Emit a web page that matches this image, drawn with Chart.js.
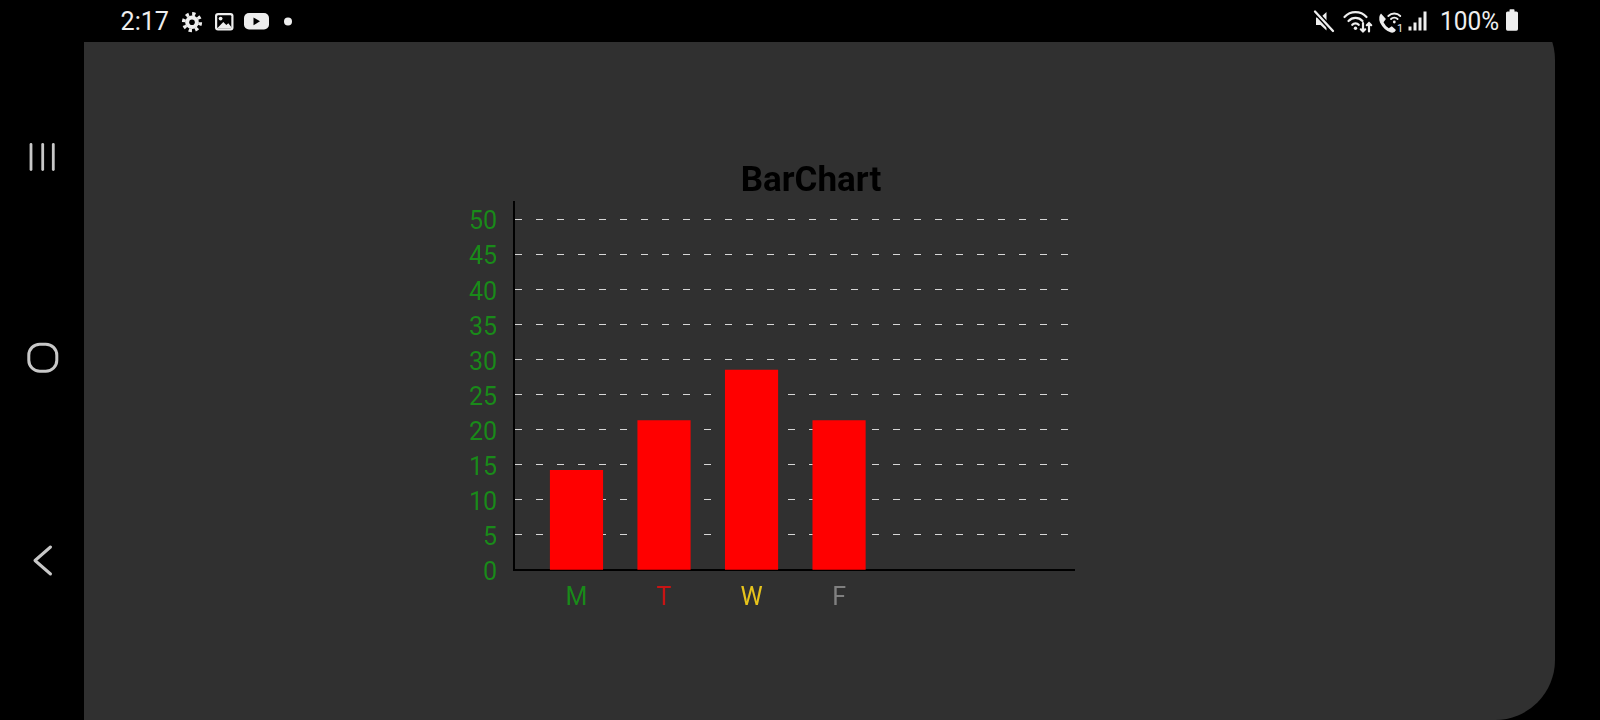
<!DOCTYPE html>
<html>
<head>
<meta charset="utf-8">
<title>BarChart</title>
<script src="https://cdn.jsdelivr.net/npm/chart.js@4.4.1/dist/chart.umd.min.js"></script>
<style>
  html, body { margin: 0; padding: 0; background: #000; }
  body { width: 1600px; height: 720px; overflow: hidden; position: relative; font-family: Roboto, sans-serif; }
  #panel { position: absolute; left: 84px; top: 0; width: 1471px; height: 720px; background: #303030; border-radius: 0 60px 60px 0; }
  #chart-box { position: absolute; left: 414px; top: 140px; width: 794px; height: 490px; }
  svg { position: absolute; left: 0; top: 0; }
</style>
</head>
<body>
<div id="panel"></div>

<!-- status bar -->
<svg width="1600" height="42" viewBox="0 0 1600 42">
  <rect x="0" y="0" width="1600" height="42" fill="#000"/>
  <text x="120.5" y="30" font-family="Roboto" font-size="26" fill="#eee" textLength="48.5" lengthAdjust="spacingAndGlyphs">2:17</text>
  <!-- gear -->
  <circle cx="192" cy="22.2" r="8.3" fill="none" stroke="#eee" stroke-width="3.6" stroke-dasharray="3.25 3.25"/>
  <circle cx="192" cy="22.2" r="6.8" fill="#eee"/>
  <circle cx="192" cy="22.2" r="2.8" fill="#000"/>
  <!-- image -->
  <rect x="215" y="13" width="18.5" height="17.5" rx="3" fill="#eee"/>
  <rect x="217.2" y="15.2" width="14.1" height="13.1" rx="1" fill="#000"/>
  <circle cx="220.6" cy="18.6" r="1.9" fill="#eee"/>
  <polygon points="217.2,28.3 223.3,22 226.3,25 228.3,23.2 231.3,27 231.3,28.3" fill="#eee"/>
  <!-- youtube -->
  <rect x="244" y="13" width="25" height="16.5" rx="5" fill="#eee"/>
  <polygon points="253.5,17.4 253.5,25.2 260,21.3" fill="#000"/>
  <circle cx="288" cy="21.5" r="4" fill="#eee"/>

  <!-- mute -->
  <polygon points="1316,17.5 1320.5,17.5 1326.5,12 1326.5,30.5 1320.5,25 1316,25" fill="#eee"/>
  <line x1="1315" y1="11.5" x2="1333" y2="31" stroke="#000" stroke-width="5"/>
  <line x1="1315" y1="11.5" x2="1333" y2="31" stroke="#eee" stroke-width="2.3" stroke-linecap="round"/>
  <!-- wifi with arrows -->
  <g fill="none" stroke="#eee" stroke-width="2.2" stroke-linecap="round">
    <path d="M1344.5,17 A15,15 0 0 1 1366.5,17"/>
    <path d="M1348.5,21 A9.5,9.5 0 0 1 1362.5,21"/>
    <path d="M1352.3,24.8 A4.2,4.2 0 0 1 1358.7,24.8"/>
    <path d="M1363,23 L1363,31.5 M1360.8,29.3 L1363,31.5 L1365.2,29.3"/>
    <path d="M1369,31.5 L1369,23 M1366.8,25.2 L1369,23 L1371.2,25.2"/>
  </g>
  <circle cx="1355.5" cy="28.3" r="1.7" fill="#eee"/>
  <!-- wifi call -->
  <path d="M1381,13.5 q-3,3 -1,9 q4,8 11,10 q3.5,0.8 5,-2.5 l-4.2,-3.8 l-3,2 q-3.3,-2 -5.3,-6 l2.4,-3.2 z" fill="#eee"/>
  <g fill="none" stroke="#eee" stroke-width="1.8" stroke-linecap="round">
    <path d="M1388.3,16 A8.5,8.5 0 0 1 1400.3,16"/>
    <path d="M1391,19 A4.6,4.6 0 0 1 1397.6,19"/>
  </g>
  <circle cx="1394.3" cy="22" r="1.4" fill="#eee"/>
  <text x="1397" y="32" font-family="Roboto" font-size="11" fill="#eee">1</text>
  <!-- signal -->
  <rect x="1408.5" y="26.5" width="3" height="4" fill="#eee"/>
  <rect x="1413.5" y="22.5" width="3" height="8" fill="#eee"/>
  <rect x="1418.5" y="17.5" width="3" height="13" fill="#eee"/>
  <rect x="1423.5" y="11.5" width="3" height="19" fill="#eee"/>
  <text x="1440" y="30" font-family="Roboto" font-size="26" fill="#eee" textLength="59" lengthAdjust="spacingAndGlyphs">100%</text>
  <!-- battery -->
  <rect x="1509.5" y="9.3" width="5" height="3" rx="0.8" fill="#eee"/>
  <rect x="1506" y="11.5" width="12" height="19.2" rx="1.6" fill="#eee"/>
</svg>

<!-- navigation keys -->
<svg width="84" height="720" viewBox="0 0 84 720">
  <rect x="29.6" y="143" width="2.8" height="28" rx="1.4" fill="#c8c8c8"/>
  <rect x="41.3" y="143" width="2.8" height="28" rx="1.4" fill="#c8c8c8"/>
  <rect x="51.9" y="143" width="2.8" height="28" rx="1.4" fill="#c8c8c8"/>
  <rect x="28.8" y="344.2" width="28" height="27" rx="11" fill="none" stroke="#c8c8c8" stroke-width="3"/>
  <polyline points="50.5,547 35,560.5 50.5,574" fill="none" stroke="#c8c8c8" stroke-width="3" stroke-linecap="round" stroke-linejoin="round"/>
</svg>

<div id="chart-box"><canvas id="barChart"></canvas></div>

<script>
// chart values
const days = ["M", "T", "W", "F"];
const dayColors = ["#1a8a1a", "#c81414", "#e6c31c", "#808080"];
const values = [14.2, 21.3, 28.5, 21.3];
const yTicks = [0, 5, 10, 15, 20, 25, 30, 35, 40, 45, 50];

const GREEN = "#1a8a1a";

function initChart() {
  Chart.defaults.font.family = "Roboto";
  const ctx = document.getElementById("barChart").getContext("2d");

  new Chart(ctx, {
    type: "bar",
    data: {
      datasets: [{
        data: days.map((d, i) => ({ x: i, y: values[i] })),
        backgroundColor: "#ff0000",
        borderWidth: 0,
        barThickness: 52.5,
        xAxisID: "x",
        yAxisID: "y"
      }]
    },
    options: {
      animation: false,
      responsive: true,
      maintainAspectRatio: false,
      layout: { padding: 0 },
      plugins: {
        legend: { display: false },
        tooltip: { enabled: false },
        title: {
          display: true,
          text: "BarChart",
          color: "#000",
          font: { size: 35, weight: "bold", lineHeight: 1.1 },
          padding: { top: 22.75, bottom: 1.05 }
        }
      },
      scales: {
        x: {
          type: "linear",
          offset: false,
          bounds: "data",
          min: -0.714,
          max: 5.69,
          grid: { display: false, drawTicks: false, offset: false },
          border: { display: true, color: "#000", width: 2 },
          ticks: {
            color: (c) => dayColors[c.index] || GREEN,
            font: { size: 25 },
            padding: 14,
            maxRotation: 0,
            autoSkip: false,
            callback: (v) => days[v] ?? ""
          },
          afterBuildTicks: (s) => { s.ticks = days.map((d, i) => ({ value: i })); },
          afterFit: (s) => { s.height = 60; }
        },
        y: {
          type: "linear",
          position: "left",
          min: 0,
          max: 52.4,
          grid: {
            color: (c) => (c.tick && c.tick.value === 0 ? "rgba(0,0,0,0)" : "#d6d6d6"),
            lineWidth: 1,
            drawTicks: false
          },
          border: { display: true, color: "#000", width: 2, dash: [7, 14] },
          ticks: { color: GREEN, font: { size: 25 }, padding: 17, labelOffset: 4 },
          afterBuildTicks: (s) => { s.ticks = yTicks.map((v) => ({ value: v })); },
          afterFit: (s) => { s.width = 100; }
        },
        // empty right axis, only keeps the plot narrower than the title box
        y2: {
          type: "linear",
          position: "right",
          grid: { display: false, drawTicks: false },
          border: { display: false },
          ticks: { display: false },
          afterFit: (s) => { s.width = 133.5; }
        }
      }
    }
  });
}

window.addEventListener("load", initChart);
</script>
</body>
</html>
